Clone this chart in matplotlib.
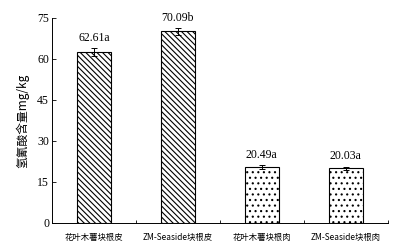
import matplotlib.pyplot as plt

plt.rcParams['font.family'] = ['Liberation Serif', 'Noto Sans CJK SC']
plt.rcParams['hatch.linewidth'] = 0.8

categories = ['花叶木薯块根皮', 'ZM-Seaside块根皮', '花叶木薯块根肉', 'ZM-Seaside块根肉']
values = [62.61, 70.09, 20.49, 20.03]
errors = [1.5, 1.2, 0.6, 0.6]
labels = ['62.61a', '70.09b', '20.49a', '20.03a']
hatches = ['\\\\\\\\\\\\', '\\\\\\\\\\\\', '...', '...']

fig = plt.figure(figsize=(3.99, 2.45), dpi=100)
ax = fig.add_axes([0.130, 0.090, 0.842, 0.837])

x = range(len(categories))
for i in x:
    ax.bar(i, values[i], width=0.4, color='white', edgecolor='black',
           hatch=hatches[i], linewidth=0.8,
           yerr=errors[i], capsize=2, error_kw={'elinewidth': 0.7, 'capthick': 0.7})
    ax.text(i, values[i] + errors[i] + 1.5, labels[i], ha='center', va='bottom', fontsize=8.5)

ax.set_xlim(-0.5, 3.5)
ax.set_ylim(0, 75)
ax.set_yticks([0, 15, 30, 45, 60, 75])
ax.set_xticks([0, 1, 2, 3])
ax.set_xticklabels(categories, family=['Noto Sans CJK SC'], fontsize=6)
ax.set_xticks([0.5, 1.5, 2.5, 3.5], minor=True)
ax.tick_params(axis='x', which='major', length=0, pad=7)
ax.tick_params(axis='x', which='minor', direction='in', length=2, width=0.6)
ax.tick_params(axis='y', direction='in', length=3, width=0.6, labelsize=8.5, pad=2)
ax.spines['top'].set_visible(False)
ax.spines['right'].set_visible(False)
ax.spines['left'].set_linewidth(0.7)
ax.spines['bottom'].set_linewidth(0.7)
ax.set_ylabel('氢氰酸含量mg/kg', family=['Noto Sans CJK SC'], fontsize=8.5, labelpad=6)

fig.savefig('out.png', dpi=100)
